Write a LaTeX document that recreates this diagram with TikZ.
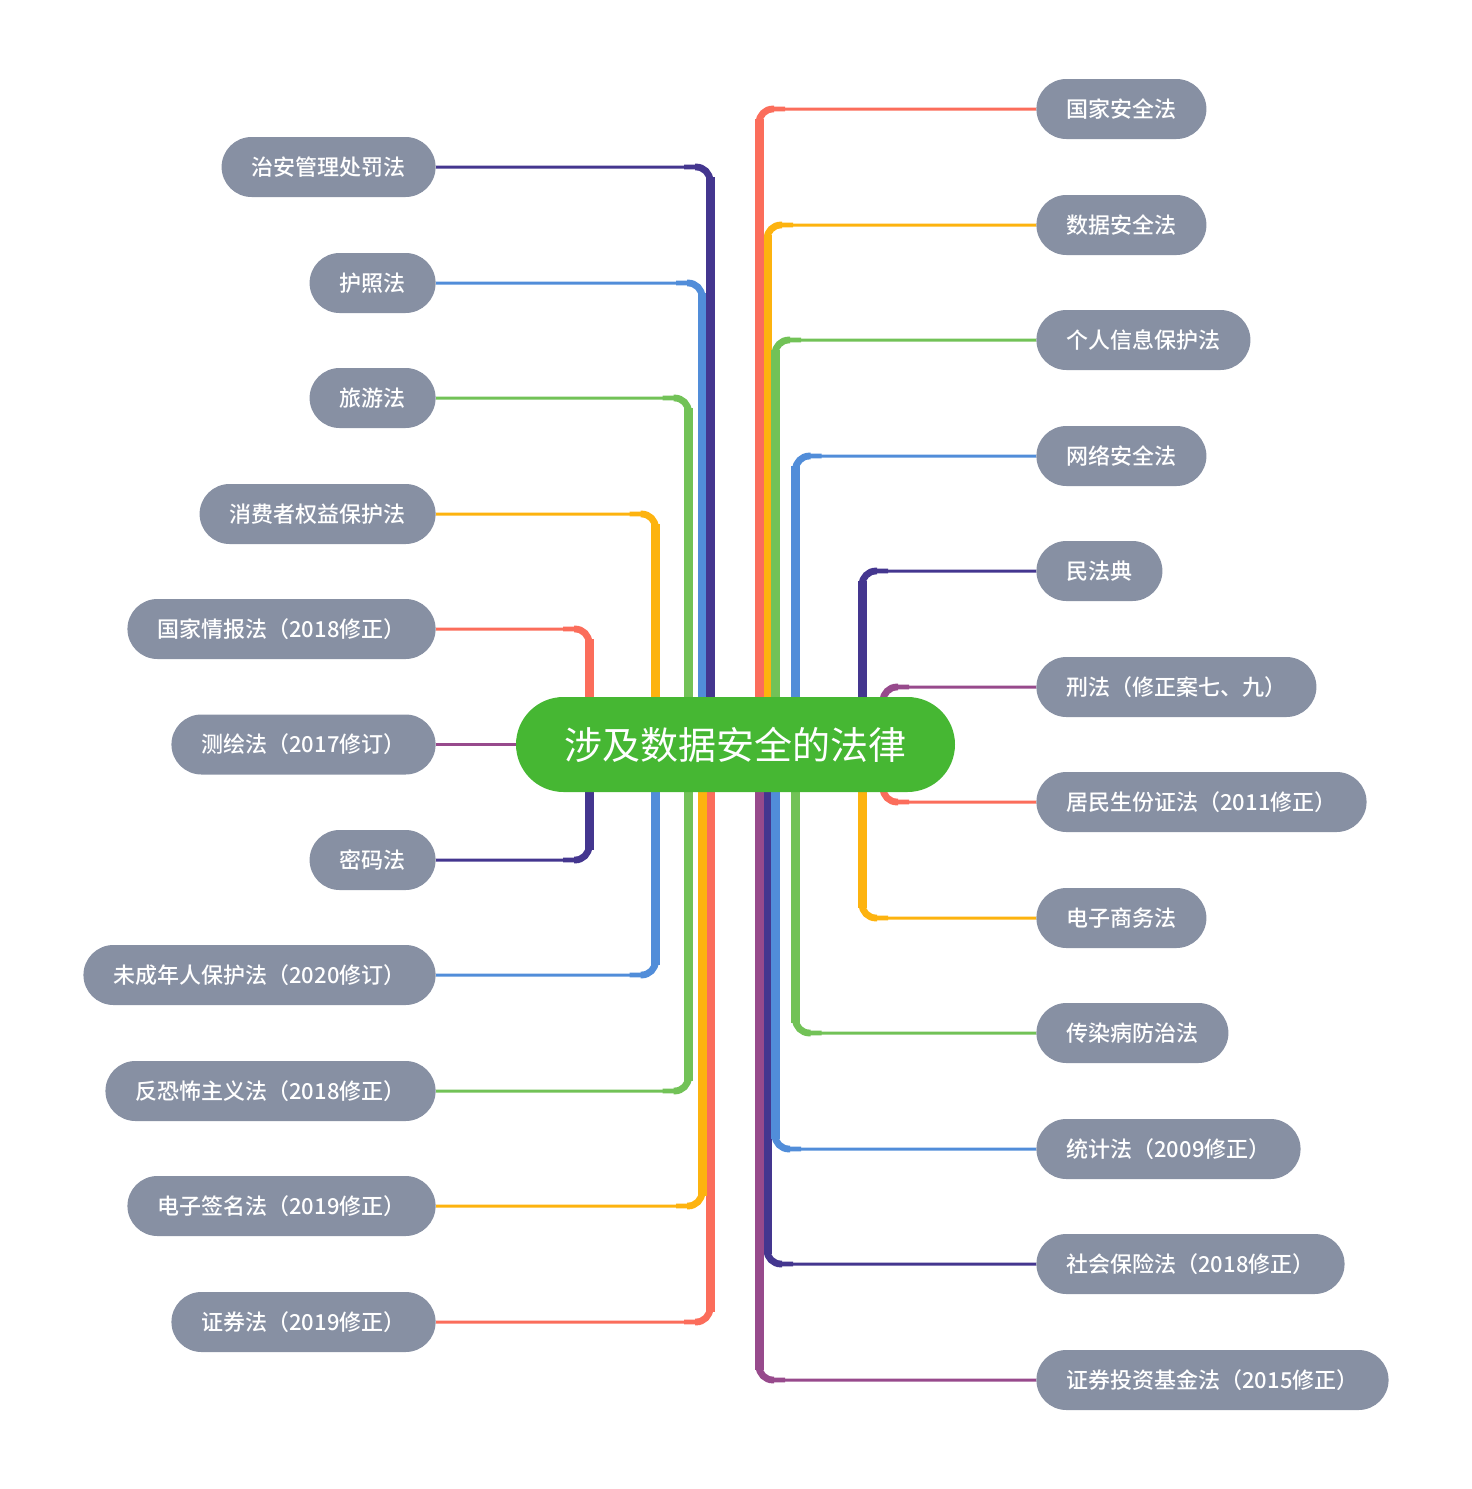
\documentclass[tikz,border=0pt]{standalone}
\usepackage{fontspec}
\setmainfont{Noto Sans CJK SC}[BoldFont={* Medium}]
\usetikzlibrary{calc}
\definecolor{ngray}{HTML}{8790A3}
\definecolor{cgreen}{HTML}{46B733}
\definecolor{cred}{HTML}{FB6D5B}
\definecolor{corange}{HTML}{FDB30F}
\definecolor{cgreenl}{HTML}{72C257}
\definecolor{cblue}{HTML}{518DD9}
\definecolor{cdpurple}{HTML}{44368F}
\definecolor{cpurple}{HTML}{974A8C}
% #1 colour, #2 node, #3 x of trunk, #4 y of node
\newcommand\BR[4]{%
  \draw[#1, line width=1.5pt, rounded corners=7pt] (#2.west) -| (#3,744.5);
  \draw[#1, line width=2.4pt, rounded corners=7pt] (#3,744.5) |- ($(#2.west -| #3,0)+(26,0)$);
  \draw[#1, line width=3.4pt, rounded corners=7pt] (#3,744.5) |- ($(#2.west -| #3,0)+(15,0)$);
  \draw[#1, line width=4.5pt] (#3,744.5) -- (#3,{#4+(744.5>#4 ? 10 : -10)});
}
\newcommand\BL[4]{%
  \draw[#1, line width=1.5pt, rounded corners=7pt] (#2.east) -| (#3,744.5);
  \draw[#1, line width=2.4pt, rounded corners=7pt] (#3,744.5) |- ($(#2.east -| #3,0)+(-26,0)$);
  \draw[#1, line width=3.4pt, rounded corners=7pt] (#3,744.5) |- ($(#2.east -| #3,0)+(-15,0)$);
  \draw[#1, line width=4.5pt] (#3,744.5) -- (#3,{#4+(744.5>#4 ? 10 : -10)});
}
\begin{document}
\begin{tikzpicture}[x=0.5pt,y=-0.5pt,
  leaf/.style={fill=ngray, text=white, rounded corners=15pt, minimum height=30pt,
    inner xsep=15pt, inner ysep=0pt, font=\bfseries\fontsize{11pt}{13pt}\selectfont},
  lnode/.style={leaf, anchor=east},
  rnode/.style={leaf, anchor=west}]
\useasboundingbox (0,0) rectangle (1472,1489);
% left nodes
\node[lnode] (L1) at (436,167) {治安管理处罚法};
\node[lnode] (L2) at (436,283) {护照法};
\node[lnode] (L3) at (436,398) {旅游法};
\node[lnode] (L4) at (436,514) {消费者权益保护法};
\node[lnode] (L5) at (436,629) {国家情报法（2018修正）};
\node[lnode] (L6) at (436,744.5) {测绘法（2017修订）};
\node[lnode] (L7) at (436,860) {密码法};
\node[lnode] (L8) at (436,975) {未成年人保护法（2020修订）};
\node[lnode] (L9) at (436,1091) {反恐怖主义法（2018修正）};
\node[lnode] (L10) at (436,1206) {电子签名法（2019修正）};
\node[lnode] (L11) at (436,1322) {证券法（2019修正）};
% right nodes
\node[rnode] (R1) at (1036,109) {国家安全法};
\node[rnode] (R2) at (1036,225) {数据安全法};
\node[rnode] (R3) at (1036,340) {个人信息保护法};
\node[rnode] (R4) at (1036,456) {网络安全法};
\node[rnode] (R5) at (1036,571) {民法典};
\node[rnode] (R6) at (1036,687) {刑法（修正案七、九）};
\node[rnode] (R7) at (1036,802) {居民生份证法（2011修正）};
\node[rnode] (R8) at (1036,918) {电子商务法};
\node[rnode] (R9) at (1036,1033) {传染病防治法};
\node[rnode] (R10) at (1036,1149) {统计法（2009修正）};
\node[rnode] (R11) at (1036,1264) {社会保险法（2018修正）};
\node[rnode] (R12) at (1036,1380) {证券投资基金法（2015修正）};
% connectors left
\BL{cred}{L5}{589}{629}
\BL{cdpurple}{L7}{589}{860}
\BL{corange}{L4}{655.5}{514}
\BL{cblue}{L8}{655.5}{975}
\BL{cgreenl}{L3}{688.5}{398}
\BL{cgreenl}{L9}{688.5}{1091}
\BL{cred}{L11}{710}{1322}
\BL{cblue}{L2}{702}{283}
\BL{corange}{L10}{702}{1206}
\BL{cdpurple}{L1}{710}{167}
% connectors right
\BR{corange}{R2}{767}{225}
\BR{cdpurple}{R11}{767}{1264}
\BR{cred}{R1}{759}{109}
\BR{cpurple}{R12}{759}{1380}
\BR{cgreenl}{R3}{775}{340}
\BR{cblue}{R10}{775}{1149}
\BR{cblue}{R4}{795.5}{456}
\BR{cgreenl}{R9}{795.5}{1033}
\BR{cdpurple}{R5}{862}{571}
\BR{corange}{R8}{862}{918}
\BR{cpurple}{R6}{883}{687}
\BR{cred}{R7}{883}{802}
% center
\node[fill=cgreen, text=white, rounded corners=23.75pt, minimum width=219.5pt,
  minimum height=47.5pt, inner sep=0pt, font=\fontsize{19pt}{22pt}\selectfont]
  (C) at (735.5,744.5) {涉及数据安全的法律};
\draw[cpurple, line width=1.6pt] (L6.east) -- (C.west);
\end{tikzpicture}
\end{document}
